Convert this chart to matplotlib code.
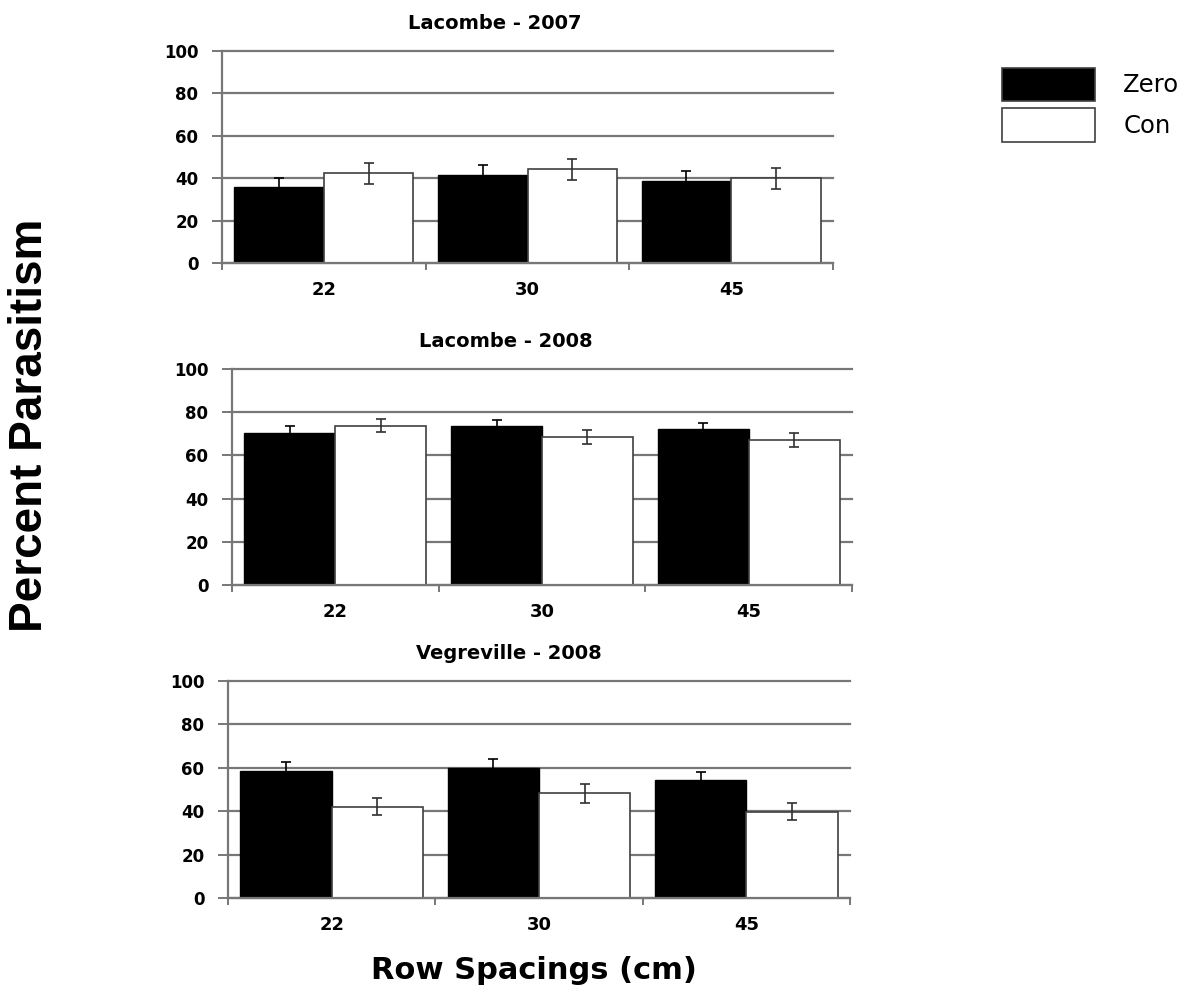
import matplotlib
matplotlib.use('Agg')
import matplotlib.pyplot as plt
from matplotlib.patches import Patch
import numpy as np

plt.rcParams['font.family'] = ['DejaVu Sans']

spacings = ['22', '30', '45']
titles = ['Lacombe - 2007', 'Lacombe - 2008', 'Vegreville - 2008']

# percent parasitism per site, zero tillage vs conventional
zero_mean = [[36.0, 41.7, 38.7],
             [70.4, 73.8, 72.4],
             [58.4, 60.0, 54.4]]
zero_err = [[4.0, 4.7, 4.5],
            [3.0, 2.8, 2.5],
            [4.2, 3.9, 3.6]]
con_mean = [[42.3, 44.2, 39.9],
            [73.8, 68.4, 67.0],
            [42.0, 48.2, 39.8]]
con_err = [[5.0, 5.0, 5.0],
           [3.2, 3.2, 3.2],
           [3.9, 4.2, 4.0]]

# axes boxes (left, bottom, width, height) in figure fractions
boxes = [[0.1872, 0.7354, 0.5152, 0.2133],
         [0.1956, 0.4115, 0.5228, 0.2173],
         [0.1922, 0.0966, 0.5245, 0.2183]]
title_x = [0.447, 0.442, 0.452]

fig = plt.figure(figsize=(11.86, 9.94), dpi=100)
gcol = '#777777'
w = 0.44
x = np.arange(len(spacings))

for i in range(3):
    ax = fig.add_axes(boxes[i])
    ax.set_axisbelow(True)
    ax.yaxis.grid(True, color=gcol, lw=1.6)
    for gl in ax.get_ygridlines():
        gl.set_clip_on(False)
    ax.bar(x - w/2, zero_mean[i], w, yerr=zero_err[i], color='black',
           edgecolor='black', lw=1.0, capsize=3.5,
           error_kw=dict(ecolor='black', elinewidth=1.2, capthick=1.2))
    ax.bar(x + w/2, con_mean[i], w, yerr=con_err[i], color='white',
           edgecolor='#404040', lw=1.2, capsize=3.5,
           error_kw=dict(ecolor='#303030', elinewidth=1.2, capthick=1.2))
    ax.set_xlim(-0.5, 2.5)
    ax.set_ylim(0, 100)
    ax.set_yticks([0, 20, 40, 60, 80, 100])
    ax.set_xticks(x)
    ax.set_xticklabels(spacings, fontsize=13, fontweight='bold')
    ax.set_xticks([-0.5, 0.5, 1.5, 2.5], minor=True)
    ax.tick_params(axis='x', which='major', length=0, pad=13)
    ax.tick_params(axis='x', which='minor', length=5, color=gcol, width=1.4)
    ax.tick_params(axis='y', length=7, color=gcol, width=1.4, pad=10)
    for lab in ax.get_yticklabels():
        lab.set_fontsize(12)
        lab.set_fontweight('bold')
    for s in ['top', 'right']:
        ax.spines[s].set_visible(False)
    for s in ['left', 'bottom']:
        ax.spines[s].set_color(gcol)
        ax.spines[s].set_linewidth(1.6)
    ax.set_title(titles[i], fontsize=14, fontweight='bold', pad=16,
                 x=title_x[i])

fig.text(0.0253, 0.5724, 'Percent Parasitism', rotation=90, ha='center',
         va='center', fontsize=33, fontweight='bold', family='Liberation Sans')
fig.text(0.4505, 0.024, 'Row Spacings (cm)', ha='center', va='center',
         fontsize=22, fontweight='bold')

handles = [Patch(facecolor='black', edgecolor='#404040', lw=1.2, label='Zero'),
           Patch(facecolor='white', edgecolor='#404040', lw=1.2, label='Con')]
fig.legend(handles=handles, loc='upper left', bbox_to_anchor=(0.845, 0.932),
           frameon=False, fontsize=17.5, handlelength=3.83, handleheight=1.75,
           handletextpad=1.15, labelspacing=0.28, borderpad=0,
           borderaxespad=0)

fig.savefig('out.png', dpi=100)
